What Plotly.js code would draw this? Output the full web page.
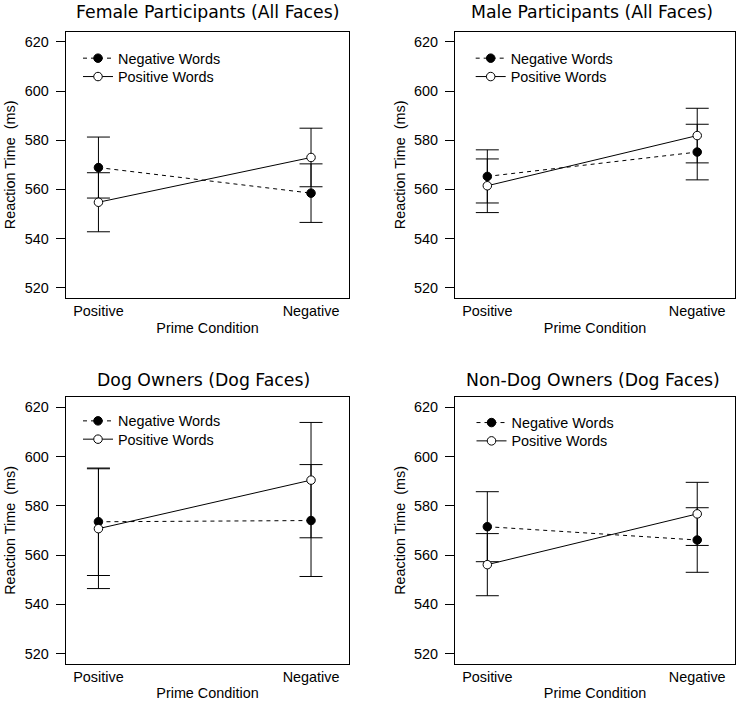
<!DOCTYPE html>
<html>
<head>
<meta charset="utf-8">
<script src="https://cdn.plot.ly/plotly-3.0.1.min.js"></script>
<style>
  html, body { margin: 0; padding: 0; background: #ffffff; }
  #rt-chart { width: 738px; height: 701px; }
</style>
</head>
<body>
<div id="rt-chart"></div>
<script>
(function () {
  "use strict";

  const PRIME_X = [1, 2];
  const PRIME_LABELS = ["Positive", "Negative"];
  const Y_TICKS = [520, 540, 560, 580, 600, 620];

  const PANEL_TITLES = [
    "Female Participants (All Faces)",
    "Male Participants (All Faces)",
    "Dog Owners (Dog Faces)",
    "Non-Dog Owners (Dog Faces)"
  ];

  // mean reaction time per prime condition
  const FEMALE_NEG_WORDS = [568.9, 558.5];
  const FEMALE_NEG_ERR = [12.4, 11.9];
  const FEMALE_POS_WORDS = [554.8, 573.0];
  const FEMALE_POS_ERR = [12.0, 11.9];

  const MALE_NEG_WORDS = [565.3, 575.2];
  const MALE_NEG_ERR = [10.8, 11.3];
  const MALE_POS_WORDS = [561.5, 581.9];
  const MALE_POS_ERR = [10.9, 11.1];

  const DOG_NEG_WORDS = [573.5, 574.0];
  const DOG_NEG_ERR = [21.8, 22.7];
  const DOG_POS_WORDS = [570.7, 590.4];
  const DOG_POS_ERR = [24.3, 23.4];

  const NONDOG_NEG_WORDS = [571.5, 566.1];
  const NONDOG_NEG_ERR = [14.2, 13.1];
  const NONDOG_POS_WORDS = [556.1, 576.7];
  const NONDOG_POS_ERR = [12.6, 12.8];

  const W = 738;
  const H = 701;
  const LABEL_FONT = "Liberation Sans, Arial, sans-serif";
  const TITLE_FONT = "DejaVu Sans, sans-serif";

  // plot boxes in pixels: [left, right, top, bottom]
  const BOXES = [
    [65.7, 349.3, 32, 297.7],
    [455, 735, 32, 297.7],
    [65.7, 349.3, 397.3, 663.5],
    [455, 735, 397.3, 663.5]
  ];
  const TITLE_POS = [[207.8, 11.7], [591.5, 11.7], [203.3, 380], [593, 380]];
  // legend left edge and the centre of its two rows, in pixels
  const LEGEND_POS = [[78, 58.3, 76.7], [470.7, 58.3, 76.7], [78, 421, 439.3], [471.5, 422.7, 441]];

  function legendId(n) {
    return n === 1 ? "legend" : "legend" + n;
  }

  function makeTrace(idx, row, name, values, errors, filled) {
    const suffix = idx === 0 ? "" : String(idx + 1);
    return {
      x: PRIME_X,
      y: values,
      name: name,
      type: "scatter",
      mode: "lines+markers",
      xaxis: "x" + suffix,
      yaxis: "y" + suffix,
      legend: legendId(idx * 2 + row + 1),
      line: { color: "#000000", width: 1, dash: filled ? "4px,4px" : "solid" },
      marker: {
        symbol: "circle",
        size: 8.5,
        color: filled ? "#000000" : "#ffffff",
        line: { color: "#000000", width: 1 }
      },
      error_y: {
        type: "data",
        array: errors,
        visible: true,
        color: "#000000",
        thickness: 1,
        width: 11.5
      },
      hoverinfo: "skip"
    };
  }

  function axisPair(idx) {
    const box = BOXES[idx];
    const suffix = idx === 0 ? "" : String(idx + 1);
    const xaxis = {
      domain: [box[0] / W, box[1] / W],
      anchor: "y" + suffix,
      range: [0.846, 2.18],
      tickvals: PRIME_X,
      ticktext: PRIME_LABELS,
      ticks: "",
      showgrid: false,
      zeroline: false,
      showline: true,
      mirror: true,
      linecolor: "#000000",
      linewidth: 1,
      tickfont: { family: LABEL_FONT, size: 14.4, color: "#000000" },
      title: {
        text: "Prime Condition",
        font: { family: LABEL_FONT, size: 14.4, color: "#000000" },
        standoff: 4
      }
    };
    const yaxis = {
      domain: [1 - box[3] / H, 1 - box[2] / H],
      anchor: "x" + suffix,
      range: [516, 624],
      tickvals: Y_TICKS,
      ticks: "outside",
      ticklen: 9,
      tickcolor: "#000000",
      tickwidth: 1,
      ticklabelstandoff: 4,
      showgrid: false,
      zeroline: false,
      showline: true,
      mirror: true,
      linecolor: "#000000",
      linewidth: 1,
      tickfont: { family: LABEL_FONT, size: 14.4, color: "#000000" },
      title: {
        text: "Reaction Time\u00a0 (ms)",
        font: { family: LABEL_FONT, size: 14.4, color: "#000000" },
        standoff: 5
      }
    };
    return { suffix: suffix, xaxis: xaxis, yaxis: yaxis };
  }

  function renderChart() {
    const panels = [
      [FEMALE_NEG_WORDS, FEMALE_NEG_ERR, FEMALE_POS_WORDS, FEMALE_POS_ERR],
      [MALE_NEG_WORDS, MALE_NEG_ERR, MALE_POS_WORDS, MALE_POS_ERR],
      [DOG_NEG_WORDS, DOG_NEG_ERR, DOG_POS_WORDS, DOG_POS_ERR],
      [NONDOG_NEG_WORDS, NONDOG_NEG_ERR, NONDOG_POS_WORDS, NONDOG_POS_ERR]
    ];

    const traces = [];
    const layout = {
      width: W,
      height: H,
      margin: { t: 0, r: 0, b: 0, l: 0 },
      paper_bgcolor: "#ffffff",
      plot_bgcolor: "#ffffff",
      font: { family: LABEL_FONT, size: 14.4, color: "#000000" },
      showlegend: true,
      annotations: []
    };

    panels.forEach((p, idx) => {
      traces.push(makeTrace(idx, 0, "Negative Words", p[0], p[1], true));
      traces.push(makeTrace(idx, 1, "Positive Words", p[2], p[3], false));

      const axes = axisPair(idx);
      layout["xaxis" + axes.suffix] = axes.xaxis;
      layout["yaxis" + axes.suffix] = axes.yaxis;

      [0, 1].forEach((row) => {
        layout[legendId(idx * 2 + row + 1)] = {
          x: LEGEND_POS[idx][0] / W,
          y: 1 - LEGEND_POS[idx][row + 1] / H,
          xanchor: "left",
          yanchor: "middle",
          bgcolor: "rgba(0,0,0,0)",
          borderwidth: 0,
          font: { family: LABEL_FONT, size: 14.4, color: "#000000" }
        };
      });

      layout.annotations.push({
        text: PANEL_TITLES[idx],
        xref: "paper",
        yref: "paper",
        x: TITLE_POS[idx][0] / W,
        y: 1 - TITLE_POS[idx][1] / H,
        xanchor: "center",
        yanchor: "middle",
        showarrow: false,
        font: { family: TITLE_FONT, size: 17.3, color: "#000000" }
      });
    });

    Plotly.newPlot("rt-chart", traces, layout, { displayModeBar: false, staticPlot: true });
  }

  renderChart();
})();
</script>
</body>
</html>
